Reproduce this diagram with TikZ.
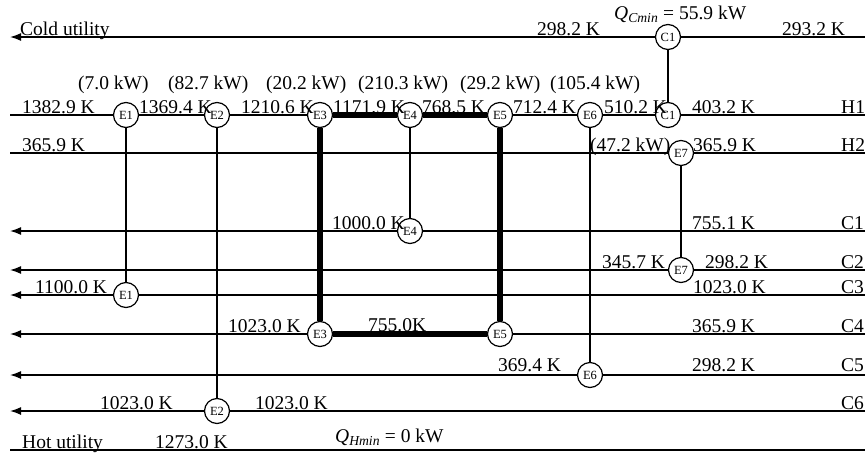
\documentclass[tikz,border=0pt]{standalone}
\usepackage{fontspec}
\setmainfont{Liberation Serif}
\usetikzlibrary{arrows.meta}

\begin{document}
\begin{tikzpicture}[
    x=1pt, y=-1pt,
    hx/.style={circle, draw, line width=1.2pt, fill=white, minimum size=25pt, inner sep=0pt, font=\fontsize{12.5}{12.5}\selectfont},
    stream/.style={draw, line width=1.5pt},
    cold/.style={stream, -{Latex[length=11pt,width=8pt]}},
    link/.style={draw, line width=1.4pt},
    hloop/.style={draw, line width=6pt},
    lbl/.style={anchor=base west, inner sep=0pt, font=\fontsize{19.5}{20}\selectfont}
]
  \useasboundingbox (0,0) rectangle (865,458);
  % stream end points
  \foreach \s/\y in {CU/37, H1/115, H2/153, C1/231, C2/270, C3/295, C4/334, C5/375, C6/411, HU/450} {
    \coordinate (\s-l) at (10,\y);
    \coordinate (\s-r) at (865,\y);
  }
  % exchangers: a = upper stream, b = lower stream
  \foreach \n/\x/\ya/\yb in {E1/126/115/295, E2/217/115/411, E3/320/115/334, E4/410/115/231,
                             E5/500/115/334, E6/590/115/375, E7/681/153/270, C1/668/37/115} {
    \node[hx] (\n a) at (\x,\ya) {\n};
    \node[hx] (\n b) at (\x,\yb) {\n};
  }
  \foreach \n in {E1, E2, E4, E6, E7, C1} {
    \draw[link] (\n a) -- (\n b);
  }
  \draw[hloop] (E3a) -- (E3b);
  \draw[hloop] (E5a) -- (E5b);
  \draw[hloop] (E3a) -- (E4a) -- (E5a);
  \draw[hloop] (E3b) -- (E5b);
  % hot streams
  \draw[stream] (H1-l) -- (E1a) -- (E2a) -- (E3a);
  \draw[stream] (E5a) -- (E6a) -- (C1b) -- (H1-r);
  \draw[stream] (H2-l) -- (E7a) -- (H2-r);
  \draw[stream] (HU-l) -- (HU-r);
  % cold streams
  \draw[cold] (CU-r) -- (C1a) -- (CU-l);
  \draw[cold] (C1-r) -- (E4b) -- (C1-l);
  \draw[cold] (C2-r) -- (E7b) -- (C2-l);
  \draw[cold] (C3-r) -- (E1b) -- (C3-l);
  \draw[stream] (C4-r) -- (E5b);
  \draw[cold] (E3b) -- (C4-l);
  \draw[cold] (C5-r) -- (E6b) -- (C5-l);
  \draw[cold] (C6-r) -- (E2b) -- (C6-l);
  % labels
  \foreach \x/\y/\txt [count=\i] in {
      20/35/Cold utility, 537/35/298.2 K, 782/35/293.2 K,
      78/89/(7.0 kW), 168/89/(82.7 kW), 266/89/(20.2 kW), 358/89/(210.3 kW), 460/89/(29.2 kW), 550/89/(105.4 kW),
      22/113/1382.9 K, 139/113/1369.4 K, 241/113/1210.6 K, 333/113/1171.9 K, 422/113/768.5 K,
      513/113/712.4 K, 604/113/510.2 K, 692/113/403.2 K, 841/113/H1,
      22/151/365.9 K, 590/151/(47.2 kW), 693/151/365.9 K, 841/151/H2,
      332/229/1000.0 K, 692/229/755.1 K, 841/229/C1,
      602/268/345.7 K, 705/268/298.2 K, 841/268/C2,
      35/293/1100.0 K, 693/293/1023.0 K, 841/293/C3,
      228/332/1023.0 K, 368/331/755.0K, 692/332/365.9 K, 841/332/C4,
      498/371/369.4 K, 692/371/298.2 K, 841/371/C5,
      100/409/1023.0 K, 255/409/1023.0 K, 841/409/C6,
      22/448/Hot utility, 155/448/1273.0 K} {
    \node[lbl] (lab\i) at (\x,\y) {\txt};
  }
  \node[lbl] (qcmin) at (614,19) {\textit{Q}\textsubscript{\textit{Cmin}} = 55.9 kW};
  \node[lbl] (qhmin) at (335,442) {\textit{Q}\textsubscript{\textit{Hmin}} = 0 kW};
\end{tikzpicture}
\end{document}
